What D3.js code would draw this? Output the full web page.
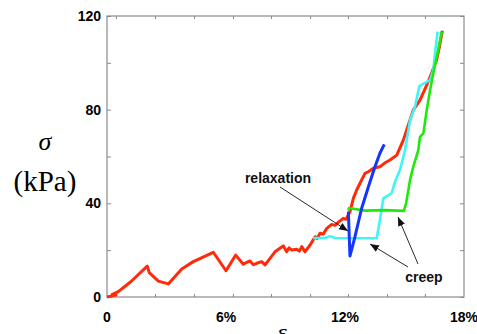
<!DOCTYPE html>
<html>
<head>
<meta charset="utf-8">
<script src="https://cdn.jsdelivr.net/npm/d3@7"></script>
<style>
  html, body { margin: 0; padding: 0; background: #fff; }
  svg { display: block; }
  .tick-label { font-family: "Liberation Sans", Arial, sans-serif; font-weight: bold; font-size: 14px; fill: #000; }
  .note { font-family: "Liberation Sans", Arial, sans-serif; font-weight: bold; font-size: 14px; fill: #111; }
</style>
</head>
<body>
<svg id="chart" width="477" height="334"></svg>
<script>
// strain (%) and stress (kPa)
const loadStrain = [0, 0.45, 0.25, 0.57, 1.2, 2.03, 2.13, 2.59, 3.09, 3.77, 4.35, 5.36, 6.0, 6.49, 6.87, 7.21, 7.38, 7.55, 7.8, 7.97, 8.22, 8.47, 8.72, 8.89, 9.06, 9.18, 9.31, 9.56, 9.7, 9.82, 9.98, 10.24, 10.49, 10.6, 10.74, 10.9, 11.08, 11.33, 11.5, 11.66, 11.91, 12.05, 12.25, 12.42, 12.59, 12.84, 13.01, 13.2, 13.43, 13.76, 14.0, 14.27, 14.61, 14.94, 15.11, 15.44, 15.78, 16.12, 16.37, 16.62, 16.76, 16.91];
const loadStress = [0, 0.8, 1.0, 2.3, 6.5, 13.2, 10.4, 6.8, 5.6, 12.0, 15.1, 19.1, 11.2, 17.9, 14.0, 15.4, 13.8, 14.4, 15.1, 13.7, 16.5, 19.3, 20.8, 21.8, 19.3, 21.0, 20.1, 20.4, 19.6, 21.5, 19.3, 22.2, 25.7, 25.0, 27.2, 26.8, 29.3, 31.0, 30.6, 31.9, 33.6, 33.2, 36.4, 42.1, 45.7, 50.0, 52.8, 53.6, 55.0, 55.6, 57.2, 58.5, 60.6, 67.0, 71.3, 79.8, 84.1, 90.5, 95.6, 101.2, 106.9, 113.7];

const relaxStrain = [12.17, 12.25, 12.5, 12.84, 13.18, 13.51, 13.76, 13.98];
const relaxStress = [36.4, 17.5, 25.7, 37.9, 47.1, 55.6, 61.4, 65.2];

const creepLowStrain = [10.39, 10.99, 11.24, 11.5, 13.6, 13.76, 13.93, 14.35, 14.52, 14.77, 15.03, 15.28, 15.53, 15.75, 16.12, 16.29, 16.45, 16.54, 16.67];
const creepLowStress = [25.2, 25.2, 26.0, 25.2, 25.1, 32.9, 42.1, 44.3, 49.2, 54.2, 62.8, 75.6, 81.3, 90.1, 91.9, 92.7, 96.9, 104.1, 113.3];

const creepHighStrain = [12.17, 12.2, 13.0, 14.0, 14.97, 15.08, 15.28, 15.44, 15.7, 15.78, 15.95, 16.12, 16.29, 16.45, 16.7, 16.88];
const creepHighStress = [36.8, 38.0, 36.9, 37.1, 36.8, 40.0, 50.0, 55.6, 62.8, 68.4, 69.9, 79.8, 88.4, 95.5, 105.5, 113.3];

const yTickValues = [0, 20, 40, 60, 80, 100, 120];
const yTickLabels = ['0', '', '40', '', '80', '', '120'];
const xTickValues = [0.45, 2.42, 4.39, 6.35, 8.27, 10.24, 12.15, 14.12, 16.03];
const xLabelValues = [0, 6, 12, 18];
const xLabelTexts = ['0', '6%', '12%', '18%'];

const width = 477;
const height = 334;
const margin = { top: 16, right: 13, bottom: 37, left: 107 };
const chartWidth = width - margin.left - margin.right;
const chartHeight = height - margin.top - margin.bottom;

const svg = d3.select('#chart');
const g = svg.append('g').attr('transform', `translate(${margin.left},${margin.top})`);

const x = d3.scaleLinear().domain([0, 18]).range([0, chartWidth]);
const y = d3.scaleLinear().domain([0, 120]).range([chartHeight, 0]);

// frame and inward ticks
const axisColor = '#8a8a8a';
g.append('rect')
  .attr('x', 0).attr('y', 0)
  .attr('width', chartWidth).attr('height', chartHeight)
  .attr('fill', 'none').attr('stroke', axisColor).attr('stroke-width', 1.2);

const tickStyle = (sel) => {
  sel.select('.domain').remove();
  sel.selectAll('.tick line').attr('stroke', axisColor).attr('stroke-width', 1);
  sel.selectAll('.tick text').remove();
};

g.append('g').call(d3.axisLeft(y).tickValues(yTickValues).tickSize(-4)).call(tickStyle);
g.append('g').attr('transform', `translate(${chartWidth},0)`)
  .call(d3.axisRight(y).tickValues(yTickValues).tickSize(-4)).call(tickStyle);
g.append('g').call(d3.axisTop(x).tickValues(xTickValues).tickSize(-3)).call(tickStyle);
g.append('g').attr('transform', `translate(0,${chartHeight})`)
  .call(d3.axisBottom(x).tickValues(xTickValues).tickSize(-3)).call(tickStyle);

// tick labels
g.selectAll('.ylab')
  .data(yTickValues)
  .join('text')
  .attr('class', 'tick-label')
  .attr('x', -6)
  .attr('y', (d) => y(d) + 5)
  .attr('text-anchor', 'end')
  .text((d, i) => yTickLabels[i]);

g.selectAll('.xlab')
  .data(xLabelValues)
  .join('text')
  .attr('class', 'tick-label')
  .attr('x', (d) => x(d))
  .attr('y', chartHeight + 25)
  .attr('text-anchor', 'middle')
  .text((d, i) => xLabelTexts[i]);

// axis titles
svg.append('text')
  .attr('x', 45).attr('y', 150)
  .attr('text-anchor', 'middle')
  .style('font-family', '"Liberation Serif", "DejaVu Serif", serif')
  .style('font-style', 'italic')
  .style('font-size', '26px')
  .text('σ');

svg.append('text')
  .attr('x', 45).attr('y', 191)
  .attr('text-anchor', 'middle')
  .style('font-family', '"Liberation Serif", "DejaVu Serif", serif')
  .style('font-size', '29px')
  .text('(kPa)');

// the strain symbol sits partly below the bottom edge, as in the source
svg.append('text')
  .attr('x', 282).attr('y', 340)
  .attr('text-anchor', 'middle')
  .style('font-family', '"Liberation Serif", "DejaVu Serif", serif')
  .style('font-style', 'italic')
  .style('font-size', '24px')
  .text('ε');

// curves
const toPoints = (xs, ys) => xs.map((v, i) => [v, ys[i]]);
const line = d3.line().curve(d3.curveLinear).x((d) => x(d[0])).y((d) => y(d[1]));

const series = [
  { pts: toPoints(loadStrain, loadStress), color: '#ff2a0a', w: 3 },
  { pts: toPoints(creepLowStrain, creepLowStress), color: '#3ff5f5', w: 2.6 },
  { pts: toPoints(creepHighStrain, creepHighStress), color: '#1eea0a', w: 2.6 },
  { pts: toPoints(relaxStrain, relaxStress), color: '#1434ff', w: 3 },
];

series.forEach((s) => {
  g.append('path')
    .datum(s.pts)
    .attr('fill', 'none')
    .attr('stroke', s.color)
    .attr('stroke-width', s.w)
    .attr('stroke-linejoin', 'round')
    .attr('d', line);
});

// annotations
svg.append('defs').append('marker')
  .attr('id', 'arrow')
  .attr('viewBox', '0 0 10 10')
  .attr('refX', 10).attr('refY', 5)
  .attr('markerWidth', 9).attr('markerHeight', 9)
  .attr('markerUnits', 'userSpaceOnUse')
  .attr('orient', 'auto')
  .append('path')
  .attr('d', 'M0,1 L10,5 L0,9 Z')
  .attr('fill', '#111');

const arrows = [
  [280, 187, 348, 231],
  [408, 267, 370, 244],
  [418, 264, 398, 217],
];
svg.selectAll('.arrow')
  .data(arrows)
  .join('line')
  .attr('x1', (d) => d[0]).attr('y1', (d) => d[1])
  .attr('x2', (d) => d[2]).attr('y2', (d) => d[3])
  .attr('stroke', '#111').attr('stroke-width', 0.9)
  .attr('marker-end', 'url(#arrow)');

svg.append('text').attr('class', 'note').attr('x', 278).attr('y', 183).attr('text-anchor', 'middle').text('relaxation');
svg.append('text').attr('class', 'note').attr('x', 424).attr('y', 282).attr('text-anchor', 'middle').text('creep');
</script>
</body>
</html>
